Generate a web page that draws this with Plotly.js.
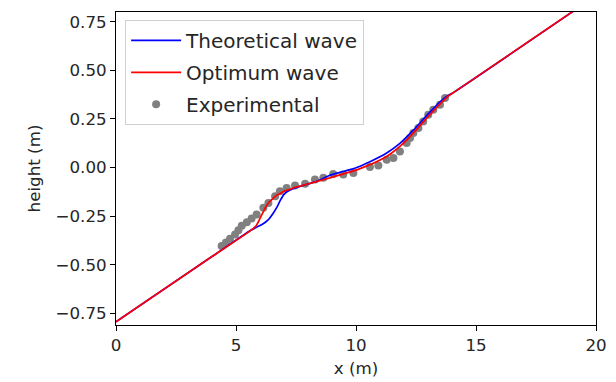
<!DOCTYPE html>
<html>
<head>
<meta charset="utf-8">
<script src="https://cdn.plot.ly/plotly-3.0.1.min.js"></script>
<style>html,body{margin:0;padding:0;background:#fff;}#chart{width:616px;height:382px;}</style>
</head>
<body>
<div id="chart"></div>
<script>
var theoX = [0, 4.0, 5.6, 5.86, 6.1, 6.35, 6.55, 6.7, 6.85, 7.0, 7.15, 7.35, 7.6, 7.8, 8.36, 8.92, 9.3, 9.75, 10.03, 10.58, 11.28, 11.83, 12.39, 12.95, 13.5, 13.78, 14.1, 20];
var theoY = [-0.794, -0.458, -0.324, -0.307, -0.292, -0.268, -0.235, -0.205, -0.168, -0.138, -0.122, -0.110, -0.100, -0.092, -0.071, -0.040, -0.026, -0.011, 0.000, 0.030, 0.075, 0.124, 0.192, 0.268, 0.338, 0.366, 0.389, 0.884];

var optX = [0, 4.0, 5.7, 5.86, 6.0, 6.21, 6.35, 6.49, 6.7, 6.83, 7.04, 7.25, 7.46, 7.74, 7.95, 8.64, 9.33, 10.03, 10.58, 10.72, 11.28, 11.42, 11.9, 12.39, 12.95, 13.5, 13.85, 14.2, 20];
var optY = [-0.794, -0.458, -0.316, -0.295, -0.262, -0.210, -0.182, -0.165, -0.142, -0.135, -0.120, -0.112, -0.102, -0.094, -0.086, -0.063, -0.038, -0.012, 0.015, 0.022, 0.057, 0.068, 0.116, 0.177, 0.254, 0.326, 0.368, 0.397, 0.884];

var expX = [4.40, 4.58, 4.75, 4.96, 5.10, 5.24, 5.45, 5.65, 5.86, 6.14, 6.35, 6.63, 6.83, 7.11, 7.46, 7.88, 8.29, 8.64, 9.05, 9.47, 9.89, 10.58, 10.93, 11.28, 11.56, 11.83, 12.11, 12.25, 12.39, 12.60, 12.80, 13.01, 13.22, 13.50, 13.71];
var expY = [-0.404, -0.385, -0.366, -0.344, -0.322, -0.300, -0.281, -0.262, -0.242, -0.207, -0.182, -0.148, -0.122, -0.105, -0.093, -0.083, -0.062, -0.053, -0.033, -0.036, -0.028, 0.003, 0.010, 0.040, 0.049, 0.083, 0.126, 0.152, 0.177, 0.203, 0.237, 0.271, 0.297, 0.323, 0.357];

var xTicks = [0, 5, 10, 15, 20];
var xTickText = ['0', '5', '10', '15', '20'];
var yTicks = [-0.75, -0.5, -0.25, 0, 0.25, 0.5, 0.75];
var yTickText = ['\u22120.75', '\u22120.50', '\u22120.25', '0.00', '0.25', '0.50', '0.75'];

var traces = [
  {x: expX, y: expY, type: 'scatter', mode: 'markers', name: 'Experimental', legendgroup: 'c', legendrank: 3,
   marker: {color: '#808080', size: 8}},
  {x: theoX, y: theoY, type: 'scatter', mode: 'lines', name: 'Theoretical wave', legendgroup: 'a', legendrank: 1,
   line: {color: '#0000ff', width: 1.7, shape: 'spline', smoothing: 0.6}},
  {x: optX, y: optY, type: 'scatter', mode: 'lines', name: 'Optimum wave', legendgroup: 'b', legendrank: 2,
   line: {color: '#ff0000', width: 1.7, shape: 'spline', smoothing: 0.6}}
];

var layout = {
  width: 616, height: 382,
  margin: {l: 116, r: 20, t: 12, b: 57},
  paper_bgcolor: '#ffffff', plot_bgcolor: '#ffffff',
  font: {family: 'DejaVu Sans, sans-serif', size: 16.7, color: '#262626'},
  showlegend: true,
  legend: {
    x: 0.019, y: 0.975, xanchor: 'left', yanchor: 'top',
    bgcolor: 'rgba(255,255,255,0.8)', bordercolor: '#d0d0d0', borderwidth: 1,
    font: {family: 'DejaVu Sans, sans-serif', size: 20, color: '#262626'},
    traceorder: 'grouped', tracegroupgap: 3, itemwidth: 50
  },
  xaxis: {
    range: [0, 20], tickvals: xTicks, ticktext: xTickText,
    showgrid: false, zeroline: false, showline: true, mirror: true, linecolor: '#000', linewidth: 1,
    ticks: 'outside', ticklen: 5, tickcolor: '#000', tickwidth: 1,
    tickfont: {size: 16.7, color: '#262626'},
    title: {text: 'x (m)', font: {size: 16.7, color: '#262626'}, standoff: 8}
  },
  yaxis: {
    range: [-0.81, 0.80], tickvals: yTicks, ticktext: yTickText,
    showgrid: false, zeroline: false, showline: true, mirror: true, linecolor: '#000', linewidth: 1,
    ticks: 'outside', ticklen: 5, tickcolor: '#000', tickwidth: 1,
    tickfont: {size: 16.7, color: '#262626'},
    title: {text: 'height (m)', font: {size: 16.7, color: '#262626'}, standoff: 10}
  }
};

Plotly.newPlot('chart', traces, layout, {displayModeBar: false, staticPlot: true});
</script>
</body>
</html>
